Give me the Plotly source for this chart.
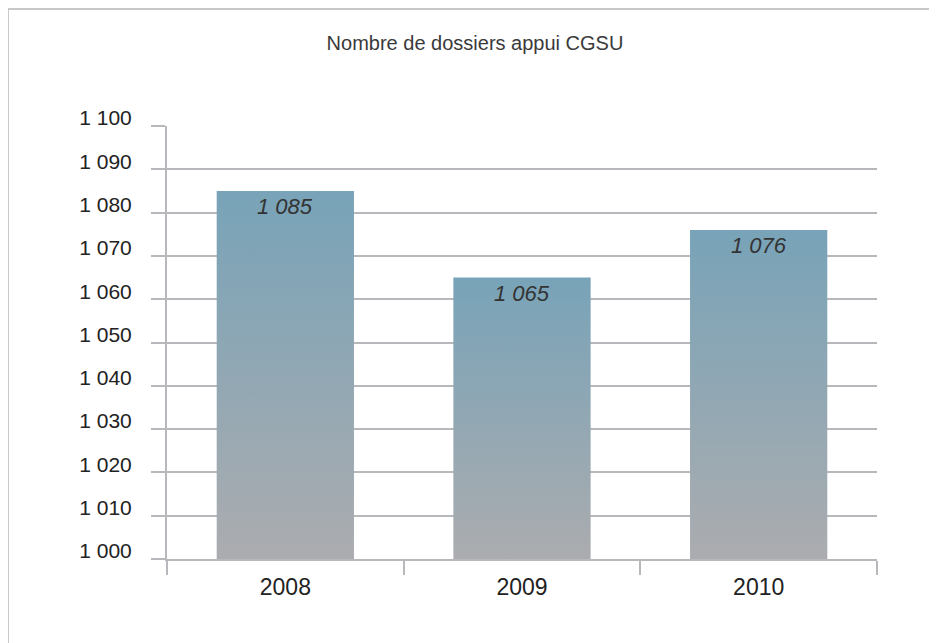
import plotly.graph_objects as go

# Data
years = ["2008", "2009", "2010"]
values = [1085, 1065, 1076]
labels = ["1 085", "1 065", "1 076"]
y_ticks = [1000, 1010, 1020, 1030, 1040, 1050, 1060, 1070, 1080, 1090, 1100]
y_tick_text = ["1 000", "1 010", "1 020", "1 030", "1 040", "1 050", "1 060", "1 070", "1 080", "1 090", "1 100"]

BASE = 1000
HALF_W = 0.29
GRID = "#b6b8bb"
FONT = "Liberation Sans, Arial, sans-serif"

# page has an 8px body margin; compensate in figure coordinates
OFF = 8
L, R, T, B = 167 - OFF, 60 + OFF, 126 - OFF, 84 + OFF
PW, PH = 937 - L - R, 643 - T - B

fig = go.Figure()

for i, (yr, v) in enumerate(zip(years, values)):
    fig.add_trace(go.Scatter(
        x=[i - HALF_W, i + HALF_W, i + HALF_W, i - HALF_W, i - HALF_W],
        y=[BASE, BASE, v, v, BASE],
        mode="lines",
        line=dict(width=0),
        fill="toself",
        fillgradient=dict(type="vertical",
                          colorscale=[[0, "#abacaf"], [1, "#78a3b8"]]),
        hoverinfo="skip",
        showlegend=False,
        name=yr,
    ))

for i, (v, lab) in enumerate(zip(values, labels)):
    fig.add_annotation(
        x=i, y=v, text=lab, showarrow=False,
        xanchor="center", yanchor="middle", yshift=-16,
        font=dict(family=FONT, size=22, color="#333333", style="italic"),
    )

fig.update_layout(
    width=937, height=643,
    margin=dict(l=L, r=R, t=T, b=B),
    paper_bgcolor="white",
    plot_bgcolor="white",
    font=dict(family=FONT, color="#222222"),
    title=dict(text="Nombre de dossiers appui CGSU",
               x=(475 - OFF) / 937, xref="container", xanchor="center",
               y=1 - (43 - OFF) / 643, yref="container", yanchor="middle",
               font=dict(family=FONT, size=20, color="#3a3a3a")),
    xaxis=dict(
        range=[-0.5, 2.5],
        tickmode="array", tickvals=list(range(len(years))), ticktext=years,
        ticks="", showgrid=False, zeroline=False,
        showline=True, linecolor=GRID, linewidth=2,
        ticklabelstandoff=6,
        tickfont=dict(family=FONT, size=23, color="#222222"),
        minor=dict(tickmode="array", tickvals=[-0.5, 0.5, 1.5, 2.5],
                   ticks="outside", ticklen=14, tickwidth=2, tickcolor=GRID,
                   showgrid=False),
        fixedrange=True,
    ),
    yaxis=dict(
        range=[1000, 1100],
        tickmode="array", tickvals=y_ticks, ticktext=y_tick_text,
        ticks="outside", ticklen=14, tickwidth=2, tickcolor=GRID,
        showgrid=True, gridcolor=GRID, gridwidth=2,
        zeroline=False,
        showline=True, linecolor=GRID, linewidth=2,
        ticklabelstandoff=15,
        ticklabelshift=-8,
        tickfont=dict(family=FONT, size=21, color="#222222"),
        fixedrange=True,
    ),
    shapes=[
        dict(type="line", xref="paper", yref="paper",
             x0=(0 - L) / PW, x1=(0 - L) / PW,
             y0=(PH + T - 1) / PH, y1=-0.4,
             line=dict(color="#c8c8c8", width=2)),
        dict(type="line", xref="paper", yref="paper",
             x0=(0 - L) / PW, x1=1.3,
             y0=(PH + T - 1) / PH, y1=(PH + T - 1) / PH,
             line=dict(color="#c8c8c8", width=2)),
    ],
)

fig.write_html("out.html")
